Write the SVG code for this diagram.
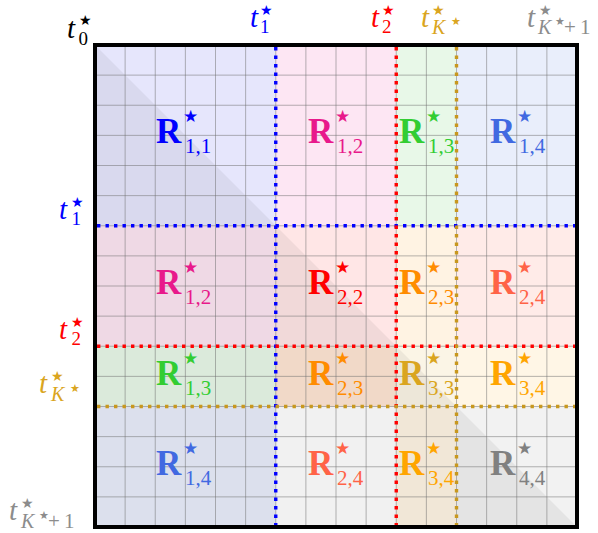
<svg xmlns="http://www.w3.org/2000/svg" width="598" height="533" viewBox="0 0 598 533">
<style>
.grid line{stroke:#6e6e6e;stroke-opacity:0.5;stroke-width:1}
.dot{fill:none;stroke-width:3.4;stroke-dasharray:3.4 5.1}
.R{font-family:'Liberation Serif','DejaVu Serif',serif;font-weight:bold;font-size:35px}
.sb{font-family:'Liberation Serif','DejaVu Serif',serif;font-size:21px}
.st{font-family:'DejaVu Sans',sans-serif;font-size:17px}
.stt{font-family:'DejaVu Sans',sans-serif;font-size:14px}
.st2{font-family:'DejaVu Sans',sans-serif;font-size:11px}
.t{font-family:'Liberation Serif','DejaVu Serif',serif;font-style:italic;font-size:29px}
.ts{font-family:'Liberation Serif','DejaVu Serif',serif;font-size:19px}
.tp{font-family:'Liberation Serif','DejaVu Serif',serif;font-size:21px}
.tk{font-family:'Liberation Serif','DejaVu Serif',serif;font-style:italic;font-size:20px}
</style>
<rect width="598" height="533" fill="#ffffff"/>
<g id="blocks">
<rect x="95" y="45" width="180.75" height="180.75" fill="#e6e6fc"/>
<rect x="275.75" y="45" width="120.5" height="180.75" fill="#fde6f3"/>
<rect x="396.25" y="45" width="60.25" height="180.75" fill="#e8f8e8"/>
<rect x="456.5" y="45" width="120.5" height="180.75" fill="#e9eefb"/>
<rect x="95" y="225.75" width="180.75" height="120.5" fill="#fde6f3"/>
<rect x="275.75" y="225.75" width="120.5" height="120.5" fill="#ffe6e6"/>
<rect x="396.25" y="225.75" width="60.25" height="120.5" fill="#fff3e3"/>
<rect x="456.5" y="225.75" width="120.5" height="120.5" fill="#ffebe8"/>
<rect x="95" y="346.25" width="180.75" height="60.25" fill="#e8f8e8"/>
<rect x="275.75" y="346.25" width="120.5" height="60.25" fill="#ffe6d4"/>
<rect x="396.25" y="346.25" width="60.25" height="60.25" fill="#fbf5e6"/>
<rect x="456.5" y="346.25" width="120.5" height="60.25" fill="#fff6e6"/>
<rect x="95" y="406.5" width="180.75" height="120.5" fill="#e9eefb"/>
<rect x="275.75" y="406.5" width="120.5" height="120.5" fill="#ffffff"/>
<rect x="396.25" y="406.5" width="60.25" height="120.5" fill="#fff5e4"/>
<rect x="456.5" y="406.5" width="120.5" height="120.5" fill="#f2f2f2"/>
</g>
<polygon id="lower-triangle" points="95,45 95,527 577,527" fill="#000000" fill-opacity="0.055"/>
<g id="grid" class="grid">
<line x1="125.125" y1="45" x2="125.125" y2="527"/>
<line x1="155.25" y1="45" x2="155.25" y2="527"/>
<line x1="185.375" y1="45" x2="185.375" y2="527"/>
<line x1="215.5" y1="45" x2="215.5" y2="527"/>
<line x1="245.625" y1="45" x2="245.625" y2="527"/>
<line x1="275.75" y1="45" x2="275.75" y2="527"/>
<line x1="305.875" y1="45" x2="305.875" y2="527"/>
<line x1="336" y1="45" x2="336" y2="527"/>
<line x1="366.125" y1="45" x2="366.125" y2="527"/>
<line x1="396.25" y1="45" x2="396.25" y2="527"/>
<line x1="426.375" y1="45" x2="426.375" y2="527"/>
<line x1="456.5" y1="45" x2="456.5" y2="527"/>
<line x1="486.625" y1="45" x2="486.625" y2="527"/>
<line x1="516.75" y1="45" x2="516.75" y2="527"/>
<line x1="546.875" y1="45" x2="546.875" y2="527"/>
<line x1="95" y1="75.125" x2="577" y2="75.125"/>
<line x1="95" y1="105.25" x2="577" y2="105.25"/>
<line x1="95" y1="135.375" x2="577" y2="135.375"/>
<line x1="95" y1="165.5" x2="577" y2="165.5"/>
<line x1="95" y1="195.625" x2="577" y2="195.625"/>
<line x1="95" y1="225.75" x2="577" y2="225.75"/>
<line x1="95" y1="255.875" x2="577" y2="255.875"/>
<line x1="95" y1="286" x2="577" y2="286"/>
<line x1="95" y1="316.125" x2="577" y2="316.125"/>
<line x1="95" y1="346.25" x2="577" y2="346.25"/>
<line x1="95" y1="376.375" x2="577" y2="376.375"/>
<line x1="95" y1="406.5" x2="577" y2="406.5"/>
<line x1="95" y1="436.625" x2="577" y2="436.625"/>
<line x1="95" y1="466.75" x2="577" y2="466.75"/>
<line x1="95" y1="496.875" x2="577" y2="496.875"/>
</g>
<g id="separators">
<line class="dot" x1="275.75" y1="47" x2="275.75" y2="527" stroke="#0000ff"/>
<line class="dot" x1="97" y1="225.75" x2="577" y2="225.75" stroke="#0000ff"/>
<line class="dot" x1="396.25" y1="47" x2="396.25" y2="527" stroke="#ff0000"/>
<line class="dot" x1="97" y1="346.25" x2="577" y2="346.25" stroke="#ff0000"/>
<line class="dot" x1="456.5" y1="47" x2="456.5" y2="527" stroke="#c8981e"/>
<line class="dot" x1="97" y1="406.5" x2="577" y2="406.5" stroke="#c8981e"/>
</g>
<rect id="frame" x="95" y="45" width="482" height="482" fill="none" stroke="#000000" stroke-width="4"/>
<g id="block-labels">
<g id="R11" fill="#0000ff"><text class="R" x="156" y="143">R</text><text class="st" x="183" y="122">★</text><text class="sb" x="185" y="153">1,1</text></g>
<g id="R12a" fill="#e8198b"><text class="R" x="308" y="143">R</text><text class="st" x="335" y="122">★</text><text class="sb" x="337" y="153">1,2</text></g>
<g id="R13a" fill="#32cd32"><text class="R" x="399" y="143">R</text><text class="st" x="426" y="122">★</text><text class="sb" x="428" y="153">1,3</text></g>
<g id="R14a" fill="#4169e1"><text class="R" x="490" y="143">R</text><text class="st" x="517" y="122">★</text><text class="sb" x="519" y="153">1,4</text></g>
<g id="R12b" fill="#e8198b"><text class="R" x="156" y="294">R</text><text class="st" x="183" y="273">★</text><text class="sb" x="185" y="304">1,2</text></g>
<g id="R22" fill="#ff0000"><text class="R" x="308" y="294">R</text><text class="st" x="335" y="273">★</text><text class="sb" x="337" y="304">2,2</text></g>
<g id="R23a" fill="#ff8c00"><text class="R" x="399" y="294">R</text><text class="st" x="426" y="273">★</text><text class="sb" x="428" y="304">2,3</text></g>
<g id="R24a" fill="#ff6347"><text class="R" x="490" y="294">R</text><text class="st" x="517" y="273">★</text><text class="sb" x="519" y="304">2,4</text></g>
<g id="R13b" fill="#32cd32"><text class="R" x="156" y="385">R</text><text class="st" x="183" y="364">★</text><text class="sb" x="185" y="395">1,3</text></g>
<g id="R23b" fill="#ff8c00"><text class="R" x="308" y="385">R</text><text class="st" x="335" y="364">★</text><text class="sb" x="337" y="395">2,3</text></g>
<g id="R33" fill="#daa520"><text class="R" x="399" y="385">R</text><text class="st" x="426" y="364">★</text><text class="sb" x="428" y="395">3,3</text></g>
<g id="R34a" fill="#ffa500"><text class="R" x="490" y="385">R</text><text class="st" x="517" y="364">★</text><text class="sb" x="519" y="395">3,4</text></g>
<g id="R14b" fill="#4169e1"><text class="R" x="156" y="475">R</text><text class="st" x="183" y="454">★</text><text class="sb" x="185" y="485">1,4</text></g>
<g id="R24b" fill="#ff6347"><text class="R" x="308" y="475">R</text><text class="st" x="335" y="454">★</text><text class="sb" x="337" y="485">2,4</text></g>
<g id="R34b" fill="#ffa500"><text class="R" x="399" y="475">R</text><text class="st" x="426" y="454">★</text><text class="sb" x="428" y="485">3,4</text></g>
<g id="R44" fill="#808080"><text class="R" x="490" y="475">R</text><text class="st" x="517" y="454">★</text><text class="sb" x="519" y="485">4,4</text></g>
</g>
<g id="axis-labels">
<g id="t0" fill="#000000"><text class="t" x="67" y="38">t</text><text class="stt" x="79" y="25">★</text><text class="ts" x="78.5" y="45">0</text></g>
<g id="t1-top" fill="#0000ff"><text class="t" x="250" y="27">t</text><text class="stt" x="260" y="15">★</text><text class="ts" x="260" y="33">1</text></g>
<g id="t2-top" fill="#ff0000"><text class="t" x="371" y="27">t</text><text class="stt" x="382" y="15">★</text><text class="ts" x="382" y="33">2</text></g>
<g id="tK-top" fill="#daa520"><text class="t" x="421" y="27">t</text><text class="stt" x="432" y="15">★</text><text class="tk" x="432" y="34">K</text><text class="st2" x="451" y="25">★</text></g>
<g id="tK1-top" fill="#8c8c8c"><text class="t" x="527" y="27">t</text><text class="stt" x="539" y="15">★</text><text class="tk" x="538" y="34">K</text><text class="st2" x="555" y="25">★</text><text class="tp" x="564" y="34">+</text><text class="tp" x="580" y="34">1</text></g>
<g id="t1-left" fill="#0000ff"><text class="t" x="59" y="219">t</text><text class="stt" x="71" y="207">★</text><text class="ts" x="71.5" y="225">1</text></g>
<g id="t2-left" fill="#ff0000"><text class="t" x="59" y="339">t</text><text class="stt" x="71" y="327">★</text><text class="ts" x="71.5" y="345">2</text></g>
<g id="tK-left" fill="#daa520"><text class="t" x="39" y="393">t</text><text class="stt" x="51" y="381">★</text><text class="tk" x="51" y="401">K</text><text class="st2" x="70" y="392">★</text></g>
<g id="tK1-left" fill="#8c8c8c"><text class="t" x="9" y="520">t</text><text class="stt" x="21" y="508">★</text><text class="tk" x="21" y="528">K</text><text class="st2" x="39" y="519">★</text><text class="tp" x="48" y="528">+</text><text class="tp" x="64" y="528">1</text></g>
</g>
</svg>
